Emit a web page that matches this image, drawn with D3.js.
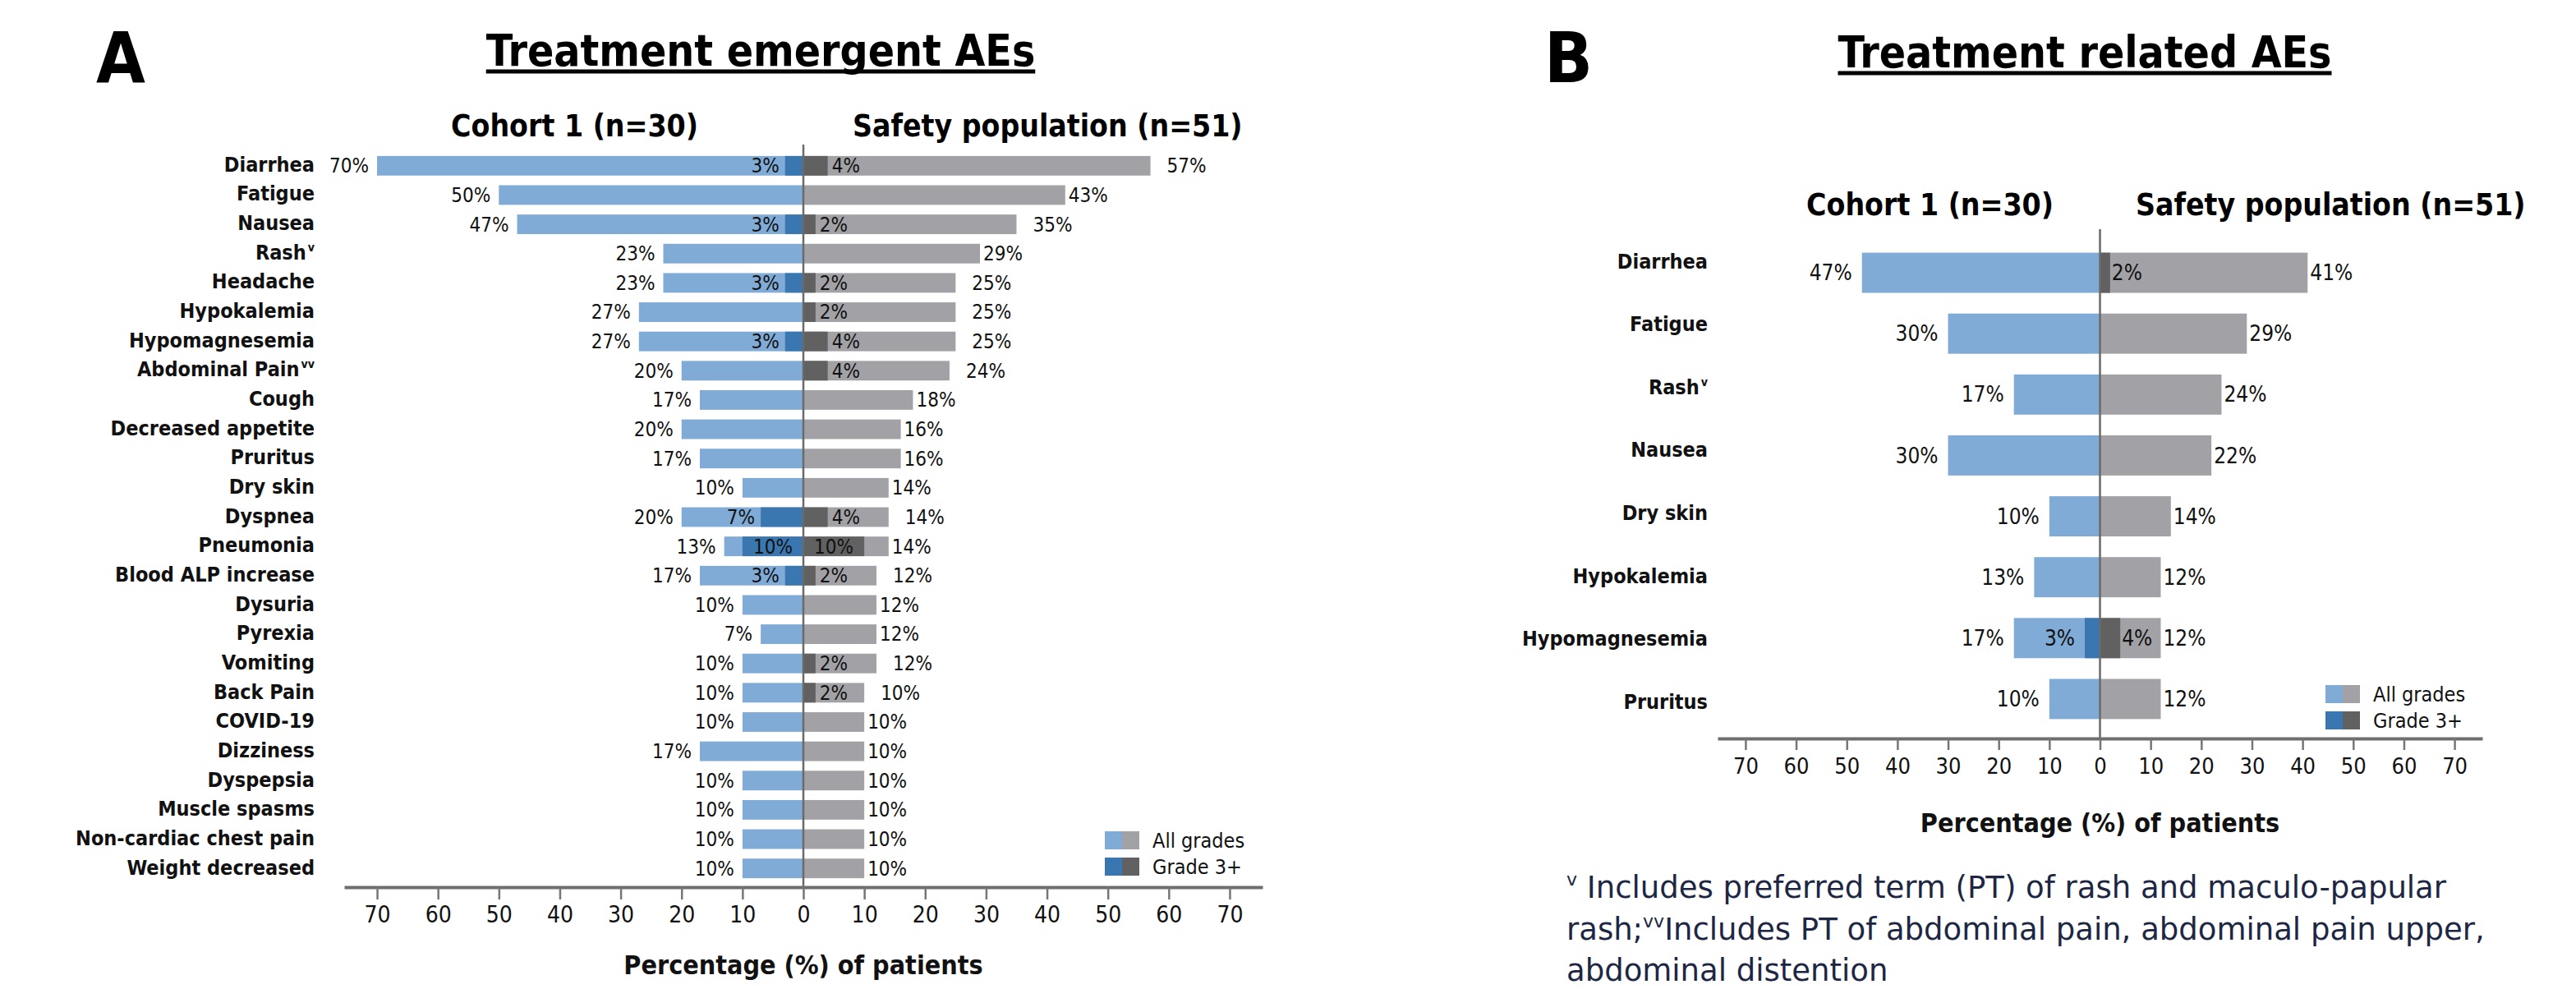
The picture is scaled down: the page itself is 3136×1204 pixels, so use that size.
<!DOCTYPE html>
<html>
<head>
<meta charset="utf-8">
<script src="https://cdn.jsdelivr.net/npm/d3@7"></script>
<style>
  body { margin: 0; background: #ffffff; }
</style>
</head>
<body>
<div id="chart"></div>
<script>
"use strict"

/* ---------- Data: panel A, treatment emergent AEs ---------- */
let categoriesA = ["Diarrhea", "Fatigue", "Nausea", "Rash", "Headache", "Hypokalemia",
    "Hypomagnesemia", "Abdominal Pain", "Cough", "Decreased appetite", "Pruritus", "Dry skin",
    "Dyspnea", "Pneumonia", "Blood ALP increase", "Dysuria", "Pyrexia", "Vomiting", "Back Pain",
    "COVID-19", "Dizziness", "Dyspepsia", "Muscle spasms", "Non-cardiac chest pain", "Weight decreased"];
let cohortAllA = [70, 50, 47, 23, 23, 27, 27, 20, 17, 20, 17, 10, 20, 13, 17, 10, 7, 10, 10, 10, 17, 10, 10, 10, 10];
let cohortG3A  = [3, 0, 3, 0, 3, 0, 3, 0, 0, 0, 0, 0, 7, 10, 3, 0, 0, 0, 0, 0, 0, 0, 0, 0, 0];
let safetyAllA = [57, 43, 35, 29, 25, 25, 25, 24, 18, 16, 16, 14, 14, 14, 12, 12, 12, 12, 10, 10, 10, 10, 10, 10, 10];
let safetyG3A  = [4, 0, 2, 0, 2, 2, 4, 4, 0, 0, 0, 0, 4, 10, 2, 0, 0, 2, 2, 0, 0, 0, 0, 0, 0];

/* ---------- Data: panel B, treatment related AEs ---------- */
let categoriesB = ["Diarrhea", "Fatigue", "Rash", "Nausea", "Dry skin", "Hypokalemia", "Hypomagnesemia", "Pruritus"];
let cohortAllB = [47, 30, 17, 30, 10, 13, 17, 10];
let cohortG3B  = [0, 0, 0, 0, 0, 0, 3, 0];
let safetyAllB = [41, 29, 24, 22, 14, 12, 12, 12];
let safetyG3B  = [2, 0, 0, 0, 0, 0, 4, 0];

/* Axis ticks (negative = cohort side) and other texts */
let tickValues = [-70, -60, -50, -40, -30, -20, -10, 0, 10, 20, 30, 40, 50, 60, 70];
let footMarks = { "Rash": "v", "Abdominal Pain": "vv" };
let legendLabels = ["All grades", "Grade 3+"];

/* Colours */
let colLight = "#80abd6";
let colDarkBlue = "#3a77b0";
let colGrey = "#a2a2a6";
let colDarkGrey = "#616161";
let FONT = "'DejaVu Sans Condensed', 'DejaVu Sans', sans-serif";

let svgWidth = 3136;
let svgHeight = 1204;

let svg = d3.select("#chart")
    .append("svg")
    .attr("width", svgWidth)
    .attr("height", svgHeight)
    .style("font-family", FONT)
    .style("font-stretch", "condensed");

svg.append("rect")
    .attr("width", svgWidth)
    .attr("height", svgHeight)
    .attr("fill", "#ffffff");

/* Draws one butterfly panel */
function drawPanel(p) {
    let x = d3.scaleLinear().domain(p.xDomain).range(p.xRange);
    let y = d3.scaleBand().domain(p.categories).range(p.yRange)
        .paddingInner(p.pad).paddingOuter(p.pad / 2);
    let yLabel = d3.scalePoint().domain(p.categories).range(p.labelRange);
    let bw = y.bandwidth();

    let rows = p.categories.map(function (c, i) {
        return { cat: c, cAll: p.cohortAll[i], cG3: p.cohortG3[i], sAll: p.safetyAll[i], sG3: p.safetyG3[i] };
    });
    let g = svg.append("g");

    // bars: all grades first, grade 3+ on top, both from zero
    g.selectAll("rect.cAll").data(rows).join("rect")
        .attr("x", d => x(-d.cAll)).attr("width", d => x(0) - x(-d.cAll))
        .attr("y", d => y(d.cat)).attr("height", bw).attr("fill", colLight);
    g.selectAll("rect.sAll").data(rows).join("rect")
        .attr("x", x(0)).attr("width", d => x(d.sAll) - x(0))
        .attr("y", d => y(d.cat)).attr("height", bw).attr("fill", colGrey);
    g.selectAll("rect.cG3").data(rows.filter(d => d.cG3 > 0)).join("rect")
        .attr("x", d => x(-d.cG3)).attr("width", d => x(0) - x(-d.cG3))
        .attr("y", d => y(d.cat)).attr("height", bw).attr("fill", colDarkBlue);
    g.selectAll("rect.sG3").data(rows.filter(d => d.sG3 > 0)).join("rect")
        .attr("x", x(0)).attr("width", d => x(d.sG3) - x(0))
        .attr("y", d => y(d.cat)).attr("height", bw).attr("fill", colDarkGrey);

    // zero line
    g.append("line")
        .attr("x1", x(0)).attr("x2", x(0))
        .attr("y1", p.zeroTop).attr("y2", p.axisY)
        .attr("stroke", "#6a6a6a").attr("stroke-width", 2.5);

    // axis
    let axis = d3.axisBottom(x)
        .tickValues(tickValues)
        .tickFormat(d => Math.abs(d))
        .tickSizeInner(p.tickSize).tickSizeOuter(0)
        .tickPadding(p.tickPadding);
    let ag = g.append("g")
        .attr("transform", "translate(0," + p.axisY + ")")
        .call(axis);
    ag.select(".domain").attr("stroke", "#6e6e6e").attr("stroke-width", 4);
    ag.selectAll(".tick line").attr("stroke", "#767676").attr("stroke-width", 2.5);
    ag.selectAll(".tick text")
        .attr("font-family", FONT).attr("font-size", p.tickFont).attr("fill", "#111");

    // category labels
    let cl = g.selectAll("text.cat").data(rows).join("text")
        .attr("x", p.labelX).attr("y", d => yLabel(d.cat))
        .attr("dy", "0.35em").attr("text-anchor", "end")
        .attr("font-size", 25).attr("font-weight", "bold").attr("fill", "#111");
    cl.append("tspan").text(d => d.cat);
    cl.filter(d => footMarks[d.cat]).append("tspan")
        .attr("font-size", 14).attr("dy", -10).attr("dx", 2)
        .text(d => footMarks[d.cat]);

    // value labels
    let fs = p.valueFont;
    let midY = d => y(d.cat) + bw / 2;
    g.selectAll("text.cAllLab").data(rows).join("text")
        .attr("x", d => x(-d.cAll) - p.gapL).attr("y", midY).attr("dy", "0.35em")
        .attr("text-anchor", "end").attr("font-size", fs).attr("fill", "#111")
        .text(d => d.cAll + "%");
    g.selectAll("text.cG3Lab").data(rows.filter(d => d.cG3 > 0)).join("text")
        .attr("x", d => d.cG3 >= 10 ? (x(-d.cG3) + x(0)) / 2 : x(-d.cG3) - p.gapG3L)
        .attr("y", midY).attr("dy", "0.35em")
        .attr("text-anchor", d => d.cG3 >= 10 ? "middle" : "end")
        .attr("font-size", fs).attr("fill", "#111")
        .text(d => d.cG3 + "%");
    g.selectAll("text.sAllLab").data(rows).join("text")
        .attr("x", d => x(d.sAll) + (d.sG3 > 0 && d.sG3 < 10 ? p.gapRg : p.gapR))
        .attr("y", midY).attr("dy", "0.35em")
        .attr("text-anchor", "start").attr("font-size", fs).attr("fill", "#111")
        .text(d => d.sAll + "%");
    g.selectAll("text.sG3Lab").data(rows.filter(d => d.sG3 > 0)).join("text")
        .attr("x", d => d.sG3 >= 10 ? (x(d.sG3) + x(0)) / 2 : x(d.sG3) + p.gapG3R)
        .attr("y", midY).attr("dy", "0.35em")
        .attr("text-anchor", d => d.sG3 >= 10 ? "middle" : "start")
        .attr("font-size", fs).attr("fill", "#111")
        .text(d => d.sG3 + "%");

    // panel letter and underlined title
    g.append("text")
        .attr("x", p.letterX).attr("y", 100)
        .attr("font-size", 86).attr("font-weight", "bold").attr("fill", "#000")
        .text(p.letter);
    let t = g.append("text")
        .attr("x", p.titleX).attr("y", p.titleY)
        .attr("text-anchor", "middle")
        .attr("font-size", 53).attr("font-weight", "bold").attr("fill", "#000")
        .text(p.title);
    let tw = t.node().getComputedTextLength();
    g.append("line")
        .attr("x1", p.titleX - tw / 2).attr("x2", p.titleX + tw / 2)
        .attr("y1", p.titleY + 7).attr("y2", p.titleY + 7)
        .attr("stroke", "#000").attr("stroke-width", 5);

    // group headers
    g.append("text")
        .attr("x", p.cohortX).attr("y", p.headY).attr("text-anchor", "end")
        .attr("font-size", 37).attr("font-weight", "bold").attr("fill", "#000")
        .text("Cohort 1 (n=30)");
    g.append("text")
        .attr("x", p.safetyX).attr("y", p.headY).attr("text-anchor", "start")
        .attr("font-size", 37).attr("font-weight", "bold").attr("fill", "#000")
        .text("Safety population (n=51)");

    // axis title
    g.append("text")
        .attr("x", x(0)).attr("y", p.axisTitleY).attr("text-anchor", "middle")
        .attr("font-size", 32).attr("font-weight", "bold").attr("fill", "#111")
        .text("Percentage (%) of patients");

    // legend: two-colour swatches
    let legColors = [[colLight, colGrey], [colDarkBlue, colDarkGrey]];
    for (let i = 0; i < legendLabels.length; i++) {
        let ly = p.legendY + i * 32;
        g.append("rect").attr("x", p.legendX).attr("y", ly)
            .attr("width", 21).attr("height", 22).attr("fill", legColors[i][0]);
        g.append("rect").attr("x", p.legendX + 21).attr("y", ly)
            .attr("width", 21).attr("height", 22).attr("fill", legColors[i][1]);
        g.append("text").attr("x", p.legendX + 58).attr("y", ly + 11).attr("dy", "0.35em")
            .attr("font-size", 25).attr("fill", "#111")
            .text(legendLabels[i]);
    }
}

drawPanel({
    categories: categoriesA, cohortAll: cohortAllA, cohortG3: cohortG3A,
    safetyAll: safetyAllA, safetyG3: safetyG3A,
    xDomain: [-75.4, 75.4], xRange: [419, 1537],
    yRange: [184, 1075], pad: 0.33, labelRange: [200, 1056], labelX: 383,
    zeroTop: 176, axisY: 1080, tickSize: 15, tickPadding: 8, tickFont: 28,
    valueFont: 24, gapL: 10, gapG3L: 7, gapR: 4, gapRg: 20, gapG3R: 5,
    letter: "A", letterX: 117, title: "Treatment emergent AEs", titleX: 926, titleY: 80,
    cohortX: 850, safetyX: 1038, headY: 166, axisTitleY: 1186,
    legendX: 1345, legendY: 1012
});

drawPanel({
    categories: categoriesB, cohortAll: cohortAllB, cohortG3: cohortG3B,
    safetyAll: safetyAllB, safetyG3: safetyG3B,
    xDomain: [-75.5, 75.5], xRange: [2091, 3022],
    yRange: [295, 888], pad: 0.34, labelRange: [318, 854], labelX: 2079,
    zeroTop: 279, axisY: 899, tickSize: 14, tickPadding: 10, tickFont: 27,
    valueFont: 26, gapL: 12, gapG3L: 12, gapR: 3, gapRg: 3, gapG3R: 2,
    letter: "B", letterX: 1880, title: "Treatment related AEs", titleX: 2538, titleY: 82,
    cohortX: 2500, safetyX: 2600, headY: 262, axisTitleY: 1013,
    legendX: 2831, legendY: 834
});

/* Footnote */
let foot = svg.append("g")
    .attr("fill", "#1d2743")
    .attr("font-size", 37)
    .style("font-family", "'DejaVu Sans', sans-serif")
    .style("font-stretch", "normal");
let f1 = foot.append("text").attr("x", 1907).attr("y", 1093);
f1.append("tspan").attr("font-size", 22).attr("dy", -15).text("v");
f1.append("tspan").attr("dy", 15).text(" Includes preferred term (PT) of rash and maculo-papular");
let f2 = foot.append("text").attr("x", 1907).attr("y", 1144);
f2.append("tspan").text("rash;");
f2.append("tspan").attr("font-size", 22).attr("dy", -15).text("vv");
f2.append("tspan").attr("dy", 15).text("Includes PT of abdominal pain, abdominal pain upper,");
foot.append("text").attr("x", 1907).attr("y", 1194).text("abdominal distention");
</script>
</body>
</html>
